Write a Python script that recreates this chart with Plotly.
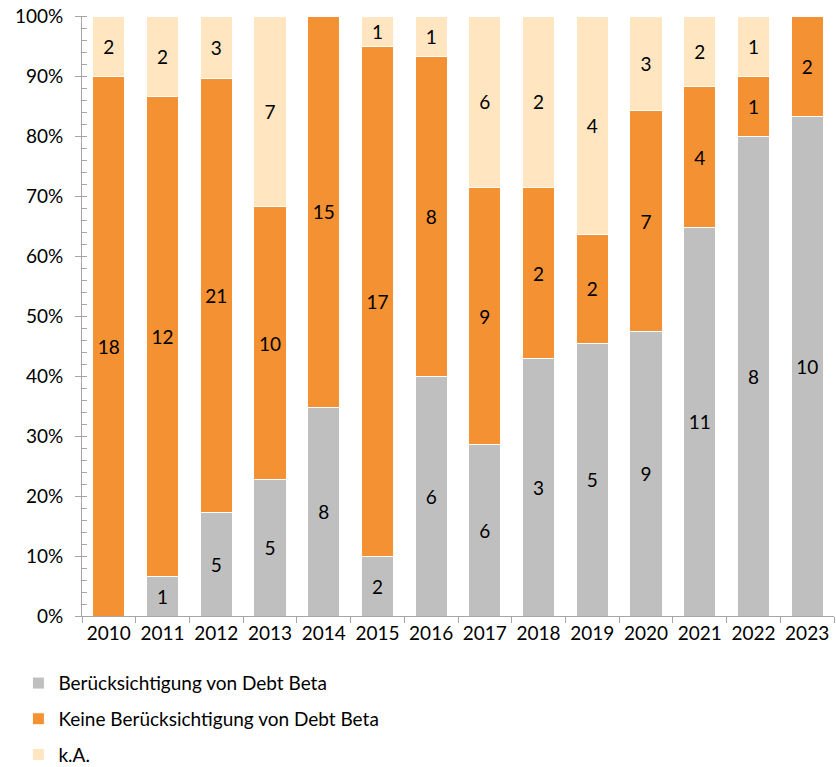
import plotly.graph_objects as go

years = ["2010", "2011", "2012", "2013", "2014", "2015", "2016",
         "2017", "2018", "2019", "2020", "2021", "2022", "2023"]
mit_debt_beta = [0, 1, 5, 5, 8, 2, 6, 6, 3, 5, 9, 11, 8, 10]
ohne_debt_beta = [18, 12, 21, 10, 15, 17, 8, 9, 2, 2, 7, 4, 1, 2]
keine_angabe = [2, 2, 3, 7, 0, 1, 1, 6, 2, 4, 3, 2, 1, 0]

series_names = ["Berücksichtigung von Debt Beta",
                "Keine Berücksichtigung von Debt Beta",
                "k.A."]
series_values = [mit_debt_beta, ohne_debt_beta, keine_angabe]
series_colors = ["#BFBFBF", "#F39133", "#FFE5C0"]

FONT = "Lato, 'Open Sans', sans-serif"
FS = 19

fig = go.Figure()
for name, vals, col in zip(series_names, series_values, series_colors):
    fig.add_trace(go.Bar(
        x=years, y=vals, name=name, legendgroup=name,
        marker=dict(color=col, line=dict(color="white", width=1)),
        text=[str(v) if v else "" for v in vals],
        textposition="inside", insidetextanchor="middle", textangle=0,
        textfont=dict(color="black", size=FS, family=FONT),
        hoverinfo="skip",
    ))

fig.update_layout(
    barmode="stack", barnorm="percent", bargap=0.40,
    width=836, height=767,
    margin=dict(l=82, r=2, t=16, b=151, autoexpand=False),
    paper_bgcolor="white", plot_bgcolor="white",
    font=dict(family=FONT, size=FS, color="black"),
    uniformtext=dict(minsize=FS, mode="show"),
    legend=dict(orientation="v", traceorder="grouped", tracegroupgap=8,
                xref="container", yref="container",
                x=0.022, xanchor="left", y=0.134, yanchor="top",
                font=dict(size=FS, family=FONT), itemwidth=30),
    showlegend=True,
)
fig.update_xaxes(
    showline=True, linecolor="#A6A6A6", linewidth=1,
    ticks="outside", ticklen=6, tickcolor="#A6A6A6", tickson="boundaries",
    tickfont=dict(size=FS, family=FONT), showgrid=False,
)
fig.update_yaxes(
    range=[0, 100], dtick=10, ticksuffix="%",
    showline=True, linecolor="#A6A6A6", linewidth=1,
    ticks="outside", ticklen=6, tickcolor="#A6A6A6",
    minor=dict(ticks="inside", ticklen=5, dtick=2, tickcolor="#A6A6A6", showgrid=False),
    tickfont=dict(size=FS, family=FONT), showgrid=False, zeroline=False,
    ticklabelstandoff=8,
)

fig.write_html("out.html", config={"displayModeBar": False},
               post_script="document.body.style.margin='0';")
